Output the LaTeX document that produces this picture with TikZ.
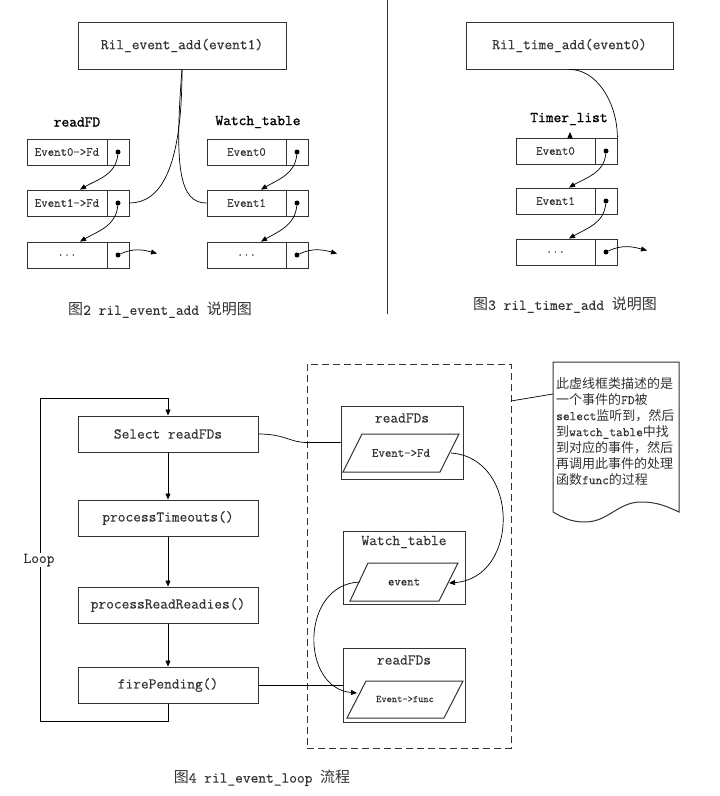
\documentclass[tikz,border=0pt]{standalone}
\usepackage{fontspec}
\newfontfamily\cjk{Noto Sans CJK SC}
\newfontfamily\mtt{Latin Modern Mono}[FakeBold=0.4]
\newfontfamily\mttb{Latin Modern Mono}[FakeBold=1.4]
\usetikzlibrary{arrows.meta,calc}
\newcommand\lt[1]{{\mtt\fontsize{13}{16}\selectfont #1}}
\begin{document}
\begin{tikzpicture}[x=1pt,y=-1pt,
  every node/.style={text=black!80},
  boxf/.style={draw=black!80, line width=1pt, inner sep=0pt, font=\mtt\fontsize{15}{18}\selectfont},
  cellf/.style={draw=black!80, line width=0.9pt, inner sep=0pt, minimum height=26pt, font=\mtt\fontsize{12.5}{15}\selectfont},
  ptrf/.style={cellf, minimum width=22pt},
  dotf/.style={circle, fill=black, inner sep=0pt, minimum size=5pt},
  conn/.style={draw=black, line width=0.7pt},
  arr/.style={conn, -{Triangle[length=6pt,width=5pt]}},
  lbl/.style={font=\mtt\fontsize{15}{18}\selectfont, inner sep=1pt},
  hlbl/.style={font=\mttb\fontsize{15}{18}\selectfont, inner sep=1pt, text=black},
  captext/.style={font=\mtt\fontsize{15}{18}\selectfont},
  inbox/.style={draw=black!80, line width=1pt, inner sep=0pt, minimum width=122pt},
  para/.style={draw=black!80, line width=1pt},
]
\useasboundingbox (0,0) rectangle (720,796);
\fill[white] (0,0) rectangle (720,796);

% ---------------- Figure 2 ----------------
\node[boxf, minimum width=208pt, minimum height=47pt] (rea) at (182,45.5) {Ril\_event\_add(event1)};
\node[hlbl] (lrd) at (77,122) {readFD};
\node[hlbl] (lwt) at (258,122) {Watch\_table};

\node[cellf, minimum width=80pt] (rf1) at (67,152) {Event0->Fd};
\node[ptrf] (rp1) at (118,152) {};
\node[cellf, minimum width=80pt] (rf2) at (67,203) {Event1->Fd};
\node[ptrf] (rp2) at (118,203) {};
\node[cellf, minimum width=80pt] (rf3) at (67,255) {...};
\node[ptrf] (rp3) at (118,255) {};
\node[dotf] (rd1) at (rp1.center) {};
\node[dotf] (rd2) at (rp2.center) {};
\node[dotf] (rd3) at (rp3.center) {};

\node[cellf, minimum width=79pt] (wf1) at (246.5,152) {Event0};
\node[ptrf] (wp1) at (297,152) {};
\node[cellf, minimum width=79pt] (wf2) at (246.5,203) {Event1};
\node[ptrf] (wp2) at (297,203) {};
\node[cellf, minimum width=79pt] (wf3) at (246.5,255) {...};
\node[ptrf] (wp3) at (297,255) {};
\node[dotf] (wd1) at (wp1.center) {};
\node[dotf] (wd2) at (wp2.center) {};
\node[dotf] (wd3) at (wp3.center) {};

\coordinate (rx3) at (157,253.5);
\coordinate (wx3) at (337,253.5);
\draw[arr] (rd1) to[out=-95,in=30] ([xshift=13pt]rf2.north);
\draw[arr] (rd2) to[out=-95,in=30] ([xshift=13pt]rf3.north);
\draw[arr] (rd3) to[out=25,in=165] (rx3);
\draw[arr] (wd1) to[out=-95,in=30] ([xshift=14.5pt]wf2.north);
\draw[arr] (wd2) to[out=-95,in=30] ([xshift=14.5pt]wf3.north);
\draw[arr] (wd3) to[out=25,in=165] (wx3);

\draw[conn] (rea.south) .. controls (182,170) and (160,203) .. (rp2.east);
\draw[conn] (rea.south) .. controls (174,170) and (180,203) .. (wf2.west);

\node[captext] (c2) at (160,310) {{\cjk 图}2 ril\_event\_add {\cjk 说明图}};

% separator
\draw[black!80, line width=1pt] (387,0) -- (387,314);

% ---------------- Figure 3 ----------------
\node[boxf, minimum width=207pt, minimum height=47pt] (rta) at (569.5,45.5) {Ril\_time\_add(event0)};
\node[hlbl] (ltl) at (569,119) {Timer\_list};
\node[cellf, minimum width=79pt] (tf1) at (555.5,151) {Event0};
\node[ptrf] (tp1) at (606,151) {};
\node[cellf, minimum width=79pt] (tf2) at (555.5,201) {Event1};
\node[ptrf] (tp2) at (606,201) {};
\node[cellf, minimum width=79pt] (tf3) at (555.5,252) {...};
\node[ptrf] (tp3) at (606,252) {};
\node[dotf] (td1) at (tp1.center) {};
\node[dotf] (td2) at (tp2.center) {};
\node[dotf] (td3) at (tp3.center) {};

\draw[conn] (rta.south) .. controls (595,69) and (617,100) .. (tp1.north east);
\coordinate (ta) at (570,132);
\draw[arr] ([xshift=14.5pt]tf1.north) -- (ta);
\coordinate (tx3) at (647,250.5);
\draw[arr] (td1) to[out=-95,in=30] ([xshift=13.5pt]tf2.north);
\draw[arr] (td2) to[out=-95,in=30] ([xshift=13.5pt]tf3.north);
\draw[arr] (td3) to[out=25,in=165] (tx3);

\node[captext] (c3) at (565,305) {{\cjk 图}3 ril\_timer\_add {\cjk 说明图}};

% ---------------- Figure 4 ----------------
\node[draw=black!80, dash pattern=on 7pt off 4pt, line width=1pt, minimum width=204pt, minimum height=384pt, inner sep=0pt] (dbox) at (409,556) {};

\node[boxf, minimum width=180pt, minimum height=36pt] (sel) at (168,434) {Select readFDs};
\node[boxf, minimum width=180pt, minimum height=36pt] (pto) at (168,518) {processTimeouts()};
\node[boxf, minimum width=180pt, minimum height=36pt] (prr) at (168,605) {processReadReadies()};
\node[boxf, minimum width=180pt, minimum height=36pt] (fp) at (168,685) {firePending()};
\draw[arr] (sel.south) -- (pto.north);
\draw[arr] (pto.south) -- (prr.north);
\draw[arr] (prr.south) -- (fp.north);
\coordinate (l1) at (168,721);
\coordinate (l2) at (40,721);
\coordinate (l3) at (40,398);
\coordinate (l4) at (168,398);
\draw[arr] (fp.south) -- (l1) -- (l2) -- (l3) -- (l4) -- (sel.north);
\node[lbl, fill=white] (loop) at (39,560) {Loop};

\node[inbox, minimum height=73pt] (rb1) at (402,442.5) {};
\node[lbl] (t1) at (402,418) {readFDs};
\node[inbox, minimum height=73pt] (rb2) at (404,567.5) {};
\node[lbl] (t2) at (404,542) {Watch\_table};
\node[inbox, minimum height=74pt] (rb3) at (404,685) {};
\node[lbl] (t3) at (404,660) {readFDs};

\draw[para] (362,434) -- (459,434) -- (440,472) -- (343,472) -- cycle;
\node[font=\mtt\fontsize{12.5}{15}\selectfont] (p1) at (401,453) {Event->Fd};
\draw[para] (368,563) -- (458,563) -- (439,601) -- (350,601) -- cycle;
\node[font=\mtt\fontsize{12.5}{15}\selectfont] (p2) at (404,582) {event};
\draw[para] (366,681) -- (463,681) -- (444,718) -- (347,718) -- cycle;
\node[font=\mtt\fontsize{10}{12}\selectfont] (p3) at (405,699) {Event->func};

\coordinate (c1) at (307,442.5);
\draw[conn] (sel.east) .. controls (285,434) and (290,442.5) .. (c1) -- (rb1.west);
\draw[conn] (fp.east) -- (rb3.west);
\coordinate (p1r) at (451,453);
\coordinate (p2r) at (449,583);
\draw[arr] (p1r) .. controls (520,458) and (520,578) .. (p2r);
\coordinate (p2l) at (360,582);
\coordinate (p3l) at (357,693);
\draw[arr] (p2l) .. controls (300,584) and (300,688) .. (p3l);

% note
\draw[black!80, line width=1pt] (553,512) -- (553,362) -- (679,362) -- (679,512)
  to[out=155,in=0] (641,502) to[out=180,in=0] (585,522) to[out=180,in=-30] (553,512);
\coordinate (dR) at (511,401);
\coordinate (nL) at (553,394);
\draw[conn] (dR) -- (nL);
\node[anchor=north west, align=left, inner sep=0pt, font=\cjk\fontsize{13}{16}\selectfont] (ntext) at (556,377)
  {此虚线框类描述的是\\一个事件的\lt{FD}被\\\lt{select}监听到，然后\\到\lt{watch\_table}中找\\到对应的事件，然后\\再调用此事件的处理\\函数\lt{func}的过程};

\node[captext] (c4) at (262,778) {{\cjk 图}4 ril\_event\_loop {\cjk 流程}};
\end{tikzpicture}
\end{document}
